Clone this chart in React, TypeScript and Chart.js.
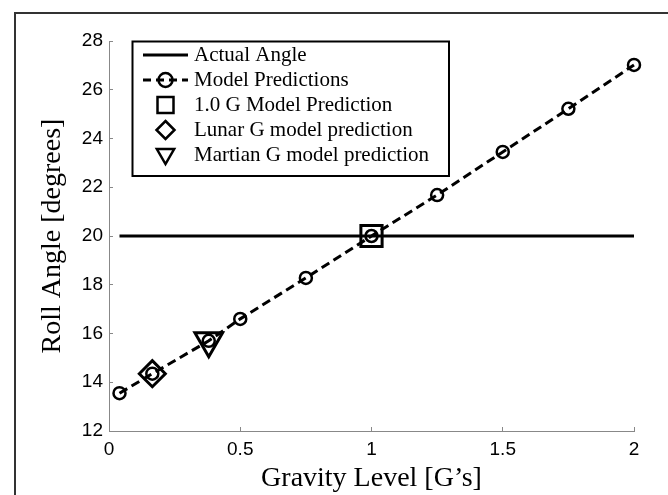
import React, { useEffect, useRef } from 'react';
import { Chart, registerables } from 'chart.js';

Chart.register(...registerables);

// ---- Data ----
const modelGravity = [0.04, 0.165, 0.38, 0.5, 0.75, 1.0, 1.25, 1.5, 1.75, 2.0];
const modelAngle = [13.55, 14.35, 15.7, 16.6, 18.28, 20.0, 21.68, 23.45, 25.22, 27.02];
const actualGravity = [0.04, 2.0];
const actualAngle = [20, 20];
const oneGPoint = [1.0, 20.0];
const lunarPoint = [0.165, 14.35];
const martianPoint = [0.38, 15.7];
const xTicks = [0, 0.5, 1, 1.5, 2];
const yTicks = [12, 14, 16, 18, 20, 22, 24, 26, 28];
const legendLabels = [
  'Actual Angle',
  'Model Predictions',
  '1.0 G Model Prediction',
  'Lunar G model prediction',
  'Martian G model prediction',
];
const xTitle = 'Gravity Level [G\u2019s]';
const yTitle = 'Roll Angle [degrees]';

const frameAndLegend = {
  id: 'frameAndLegend',
  afterDraw(chart: any) {
    const ctx = chart.ctx as CanvasRenderingContext2D;
    ctx.save();
    // outer frame (only left and top visible)
    ctx.strokeStyle = '#333';
    ctx.lineWidth = 2;
    ctx.beginPath();
    ctx.moveTo(15, chart.height);
    ctx.lineTo(15, 13);
    ctx.lineTo(chart.width, 13);
    ctx.stroke();

    // legend box
    const bx = 132.5, by = 41.5, bw = 316.5, bh = 134.5;
    ctx.fillStyle = '#fff';
    ctx.fillRect(bx, by, bw, bh);
    ctx.strokeStyle = '#000';
    ctx.lineWidth = 2;
    ctx.strokeRect(bx, by, bw, bh);

    const rows = [55, 80, 105, 130, 155];
    const sx1 = 143, sx2 = 188, sc = 165.5;
    ctx.strokeStyle = '#000';
    // row 0: solid line
    ctx.lineWidth = 3;
    ctx.beginPath();
    ctx.moveTo(sx1, rows[0]);
    ctx.lineTo(sx2, rows[0]);
    ctx.stroke();
    // row 1: dashed + circle
    ctx.setLineDash([8, 5]);
    ctx.beginPath();
    ctx.moveTo(sx1, rows[1]);
    ctx.lineTo(sx2, rows[1]);
    ctx.stroke();
    ctx.setLineDash([]);
    ctx.lineWidth = 2.5;
    ctx.beginPath();
    ctx.arc(sc, rows[1], 7, 0, Math.PI * 2);
    ctx.stroke();
    // row 2: square
    ctx.strokeRect(sc - 8, rows[2] - 8, 16, 16);
    // row 3: diamond
    ctx.beginPath();
    ctx.moveTo(sc, rows[3] - 9);
    ctx.lineTo(sc + 9, rows[3]);
    ctx.lineTo(sc, rows[3] + 9);
    ctx.lineTo(sc - 9, rows[3]);
    ctx.closePath();
    ctx.stroke();
    // row 4: triangle down
    const r = 10;
    const cy = rows[4] - 1;
    ctx.beginPath();
    ctx.moveTo(sc - r * 0.866, cy - r * 0.5);
    ctx.lineTo(sc + r * 0.866, cy - r * 0.5);
    ctx.lineTo(sc, cy + r);
    ctx.closePath();
    ctx.stroke();

    ctx.fillStyle = '#000';
    ctx.font = '21px "Liberation Serif"';
    ctx.textBaseline = 'middle';
    ctx.textAlign = 'left';
    legendLabels.forEach((t, i) => ctx.fillText(t, 194, rows[i]));
    ctx.restore();
  },
};

export default function App() {
  const ref = useRef<HTMLCanvasElement>(null);
  useEffect(() => {
    if (!ref.current) return;
    const pts = (xs: number[], ys: number[]) => xs.map((x, i) => ({ x, y: ys[i] }));
    const chart = new Chart(ref.current, {
      type: 'scatter',
      data: {
        datasets: [
          {
            label: legendLabels[0],
            data: pts(actualGravity, actualAngle),
            showLine: true,
            borderColor: '#000',
            borderWidth: 3,
            pointRadius: 0,
          },
          {
            label: legendLabels[1],
            data: pts(modelGravity, modelAngle),
            showLine: true,
            clip: 20,
            borderColor: '#000',
            borderWidth: 3,
            borderDash: [9, 5],
            pointStyle: 'circle',
            pointRadius: 6,
            pointBorderWidth: 2.5,
            pointBorderColor: '#000',
            pointBackgroundColor: 'rgba(0,0,0,0)',
          },
          {
            label: legendLabels[2],
            data: [{ x: oneGPoint[0], y: oneGPoint[1] }],
            pointStyle: 'rect',
            pointRadius: 15,
            pointBorderWidth: 3,
            pointBorderColor: '#000',
            pointBackgroundColor: 'rgba(0,0,0,0)',
          },
          {
            label: legendLabels[3],
            data: [{ x: lunarPoint[0], y: lunarPoint[1] }],
            pointStyle: 'rectRot',
            pointRadius: 13,
            pointBorderWidth: 3,
            pointBorderColor: '#000',
            pointBackgroundColor: 'rgba(0,0,0,0)',
          },
          {
            label: legendLabels[4],
            data: [{ x: martianPoint[0], y: martianPoint[1] }],
            pointStyle: 'triangle',
            rotation: 180,
            pointRadius: 16,
            pointBorderWidth: 3,
            pointBorderColor: '#000',
            pointBackgroundColor: 'rgba(0,0,0,0)',
          },
        ] as any,
      },
      options: {
        responsive: false,
        animation: false,
        layout: { padding: { left: 0, right: 34, top: 41, bottom: 0 } },
        plugins: { legend: { display: false }, tooltip: { enabled: false } },
        scales: {
          x: {
            type: 'linear',
            position: 'bottom',
            min: 0,
            max: 2,
            afterBuildTicks: (s: any) => {
              s.ticks = xTicks.map((v) => ({ value: v }));
            },
            afterFit: (s: any) => {
              s.height = 64;
            },
            grid: { drawOnChartArea: false, drawTicks: true, tickLength: -4, color: '#888', lineWidth: 1 },
            border: { display: true, color: '#888', width: 1 },
            ticks: {
              font: { family: 'Liberation Sans', size: 19 },
              color: '#000',
              padding: 11,
              maxRotation: 0,
              callback: (v: any) => String(v),
            },
            title: {
              display: true,
              text: xTitle,
              font: { family: 'Liberation Serif', size: 28 },
              color: '#000',
              padding: { top: 0, bottom: 0 },
            },
          },
          y: {
            type: 'linear',
            min: 12,
            max: 28,
            afterBuildTicks: (s: any) => {
              s.ticks = yTicks.map((v) => ({ value: v }));
            },
            afterFit: (s: any) => {
              s.width = 109;
            },
            grid: { drawOnChartArea: false, drawTicks: true, tickLength: -4, color: '#888', lineWidth: 1 },
            border: { display: true, color: '#888', width: 1 },
            ticks: {
              font: { family: 'Liberation Sans', size: 19 },
              color: '#000',
              padding: 10,
              callback: (v: any) => String(v),
            },
            title: {
              display: true,
              text: yTitle,
              font: { family: 'Liberation Serif', size: 28 },
              color: '#000',
              padding: { top: 36, bottom: 0 },
            },
          },
        },
      } as any,
      plugins: [frameAndLegend],
    });
    return () => chart.destroy();
  }, []);

  return (
    <div style={{ position: 'fixed', left: 0, top: 0, width: 668, height: 495, background: '#fff' }}>
      <canvas ref={ref} width={668} height={495} style={{ display: 'block', width: 668, height: 495 }} />
    </div>
  );
}
